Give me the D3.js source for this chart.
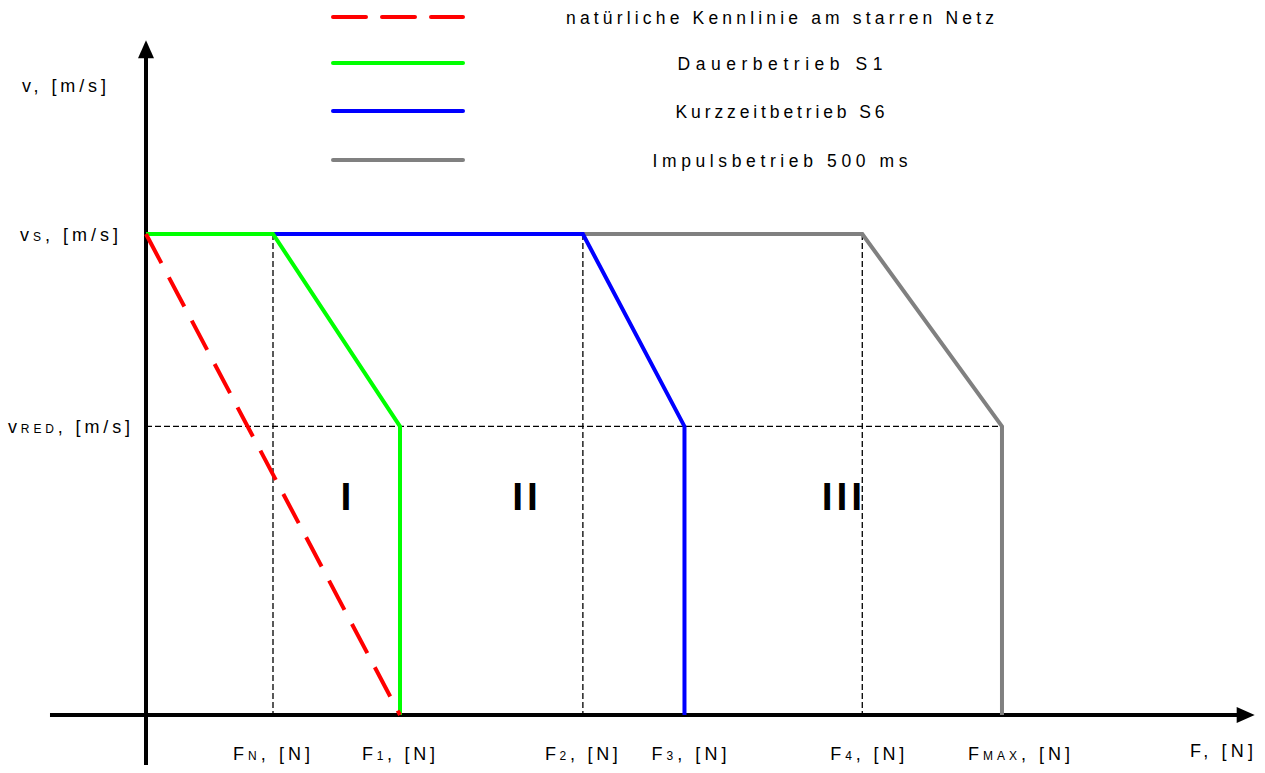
<!DOCTYPE html>
<html><head><meta charset="utf-8">
<script src="https://cdn.jsdelivr.net/npm/d3@7"></script>
<style>
body{margin:0;background:#fff;}
text{font-family:"Liberation Sans",Arial,sans-serif;fill:#000;}
</style></head>
<body>
<svg id="c" width="1265" height="773"></svg>
<script>
// ---- data ----
const forceNames = ["N","1","2","3","4","MAX"];
const forceValues = [1.0, 2.0, 3.44, 4.24, 5.64, 6.74];
const speedNames = ["S","RED"];
const speedValues = [1.0, 0.6];
const seriesNames = ["natürliche Kennlinie am starren Netz","Dauerbetrieb S1","Kurzzeitbetrieb S6","Impulsbetrieb 500 ms"];
const seriesColors = ["#ff0000","#00ff00","#0000ff","#808080"];
const redF = [0, 2.0];     const redV = [1.0, 0];
const greenF = [0, 1.0, 2.0, 2.0];  const greenV = [1.0, 1.0, 0.6, 0];
const blueF = [1.0, 3.44, 4.24, 4.24]; const blueV = [1.0, 1.0, 0.6, 0];
const grayF = [3.44, 5.64, 6.74, 6.74]; const grayV = [1.0, 1.0, 0.6, 0];
const regionLabels = ["I","II","III"];
const regionF = [1.575, 2.984, 5.48];
const regionV = [0.455, 0.455, 0.455];

const svg = d3.select("#c");
const x = d3.scaleLinear().domain([0,1]).range([146,273]);
const y = d3.scaleLinear().domain([0,1]).range([715,234]);

// dashed guides
const guides = svg.append("g").attr("stroke","#000").attr("stroke-width",1.3).attr("stroke-dasharray","6,3").attr("fill","none");
[0,2,4].forEach(i=>{
  guides.append("line").attr("x1",x(forceValues[i])).attr("x2",x(forceValues[i])).attr("y1",y(1)).attr("y2",y(0));
});
guides.append("line").attr("x1",x(0)).attr("x2",x(forceValues[5])).attr("y1",y(speedValues[1])).attr("y2",y(speedValues[1]));

// axes
svg.append("line").attr("x1",x(0)).attr("x2",x(0)).attr("y1",y(-0.104)).attr("y2",y(1.37)).attr("stroke","#000").attr("stroke-width",4);
svg.append("path").attr("d",`M${x(0)},${y(1.403)} L${x(0)-8},${y(1.403)+18} L${x(0)+8},${y(1.403)+18}Z`).attr("fill","#000");
svg.append("line").attr("x1",x(-0.756)).attr("x2",x(8.6)).attr("y1",y(0)).attr("y2",y(0)).attr("stroke","#000").attr("stroke-width",4);
svg.append("path").attr("d",`M${x(8.73)},${y(0)} L${x(8.73)-18},${y(0)-8} L${x(8.73)-18},${y(0)+8}Z`).attr("fill","#000");

// series
const line = d3.line().x(d=>x(d[0])).y(d=>y(d[1]));
const zip=(a,b)=>a.map((v,i)=>[v,b[i]]);
const series = [zip(redF,redV),zip(greenF,greenV),zip(blueF,blueV),zip(grayF,grayV)];
[3,2,1,0].forEach(i=>{
  svg.append("path").attr("d",line(series[i])).attr("fill","none")
    .attr("stroke",seriesColors[i]).attr("stroke-width",4)
    .attr("stroke-dasharray", i===0?"33,16":null);
});

// legend
const lg = svg.append("g");
const legY = [17,63,111,160];
const legW = [428,205,209,255];
seriesNames.forEach((n,i)=>{
  lg.append("line").attr("x1",333).attr("x2",463).attr("y1",legY[i]).attr("y2",legY[i])
    .attr("stroke",seriesColors[i]).attr("stroke-width",4).attr("stroke-linecap","round")
    .attr("stroke-dasharray", i===0?"33,16":null);
  lg.append("text").attr("x",780 - legW[i]/2).attr("y",legY[i]+6.5)
    .attr("font-size",17.5).attr("textLength",legW[i]).attr("lengthAdjust","spacing").text(n);
});

// labels with subscripts
function subLabel(g, xx, yy, main, sub, rest, width){
  const t = g.append("text").attr("x",xx).attr("y",yy).attr("font-size",18)
    .attr("textLength",width).attr("lengthAdjust","spacing");
  t.append("tspan").text(main);
  if(sub) t.append("tspan").attr("font-size",12).text(sub);
  t.append("tspan").text(rest);
  return t;
}
subLabel(svg, 22, 92, "v", null, ", [m/s]", 84);
const yLabX = [20, 8], yLabW = [98, 122];
speedValues.forEach((v,i)=>{
  subLabel(svg, yLabX[i], y(v)+6.5, "v", speedNames[i], ", [m/s]", yLabW[i]);
});
// x labels
const xLabW = [77,73,73,75,74,102];
const xLabOff = [-40,-38,-38,-33,-32,-34];
forceValues.forEach((f,i)=>{
  subLabel(svg, x(f)+xLabOff[i], 760, "F", forceNames[i], ", [N]", xLabW[i]);
});
subLabel(svg, 1190, 757, "F", null, ", [N]", 63);

// region numerals
regionLabels.forEach((r,i)=>{
  svg.append("text").attr("x",x(regionF[i])).attr("y",y(regionV[i])+14).attr("text-anchor","middle")
    .attr("dx", r.length>1?2:0)
    .attr("font-size",39).attr("font-weight","bold").attr("letter-spacing",r.length>1?4:0).text(r);
});
</script>
</body></html>
